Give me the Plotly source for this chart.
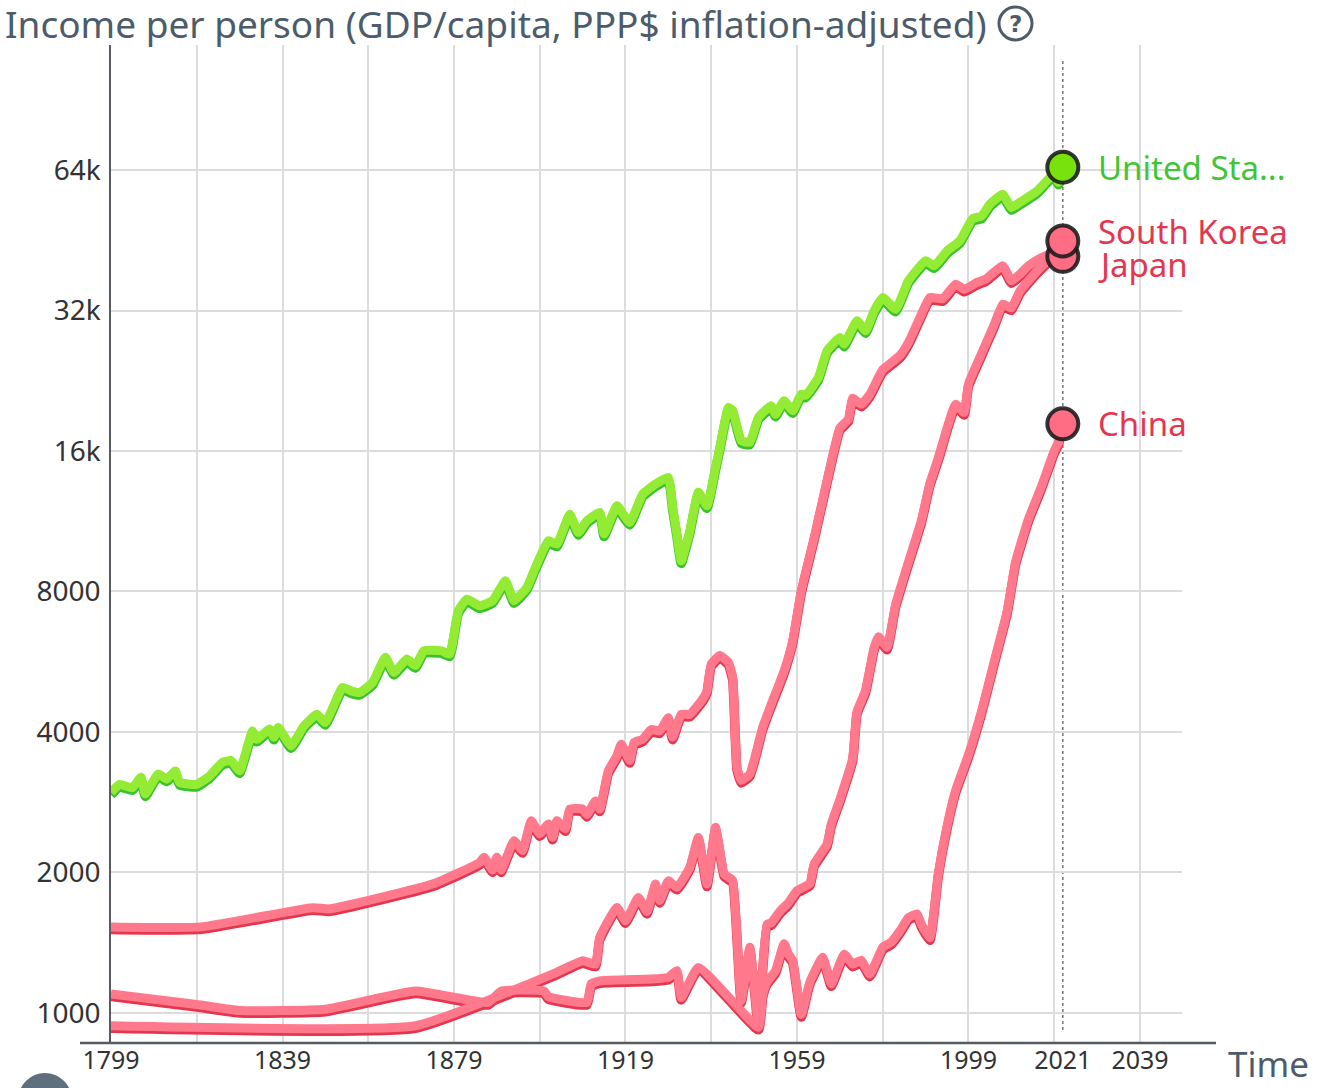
import numpy as np
import plotly.graph_objects as go

# ---- data (year, GDP per capita PPP$) ----
us_years = [1799, 1801, 1804, 1806, 1807, 1810, 1812, 1814, 1815, 1819, 1822, 1825, 1827, 1829,
            1832, 1833, 1836, 1837, 1838, 1841, 1844, 1847, 1849, 1853, 1855, 1857, 1860, 1863,
            1865, 1868, 1870, 1872, 1876, 1878, 1880, 1882, 1885, 1888, 1891, 1893, 1896, 1898,
            1901, 1903, 1906, 1908, 1910, 1913, 1914, 1916, 1917, 1920, 1923, 1926, 1929, 1930,
            1931, 1932, 1934, 1936, 1938, 1940, 1941, 1943, 1944, 1946, 1948, 1950, 1953, 1954,
            1956, 1958, 1960, 1961, 1964, 1966, 1969, 1970, 1973, 1975, 1977, 1979, 1982, 1985,
            1989, 1991, 1994, 1997, 2000, 2002, 2004, 2007, 2009, 2011, 2015, 2019, 2020, 2021]
us_gdp = [2930, 3050, 3000, 3160, 2910, 3210, 3130, 3260, 3080, 3050, 3180, 3400, 3430, 3260,
          3970, 3810, 4010, 3850, 4040, 3690, 4070, 4310, 4140, 4920, 4840, 4800, 5040, 5710,
          5300, 5660, 5480, 5900, 5900, 5800, 7180, 7610, 7360, 7550, 8330, 7550, 8060, 8900,
          10150, 9980, 11570, 10570, 11200, 11670, 10490, 11570, 12060, 11110, 12770, 13420, 13870, 11960,
          10490, 9190, 10660, 12900, 12060, 14570, 16080, 19590, 19300, 16620, 16500, 18650, 19750, 18950,
          20250, 19270, 20920, 20800, 22700, 25900, 27660, 26760, 30040, 28600, 31560, 33700, 31800, 36600,
          40400, 39400, 42400, 44600, 49800, 50300, 53400, 56100, 52500, 53900, 57000, 62000, 59500, 64900]

jp_years = [1799, 1820, 1846, 1850, 1874, 1885, 1886, 1888, 1889, 1890, 1893, 1895, 1897, 1899,
            1901, 1902, 1903, 1905, 1906, 1909, 1910, 1912, 1913, 1915, 1917, 1918, 1920, 1921,
            1923, 1925, 1927, 1929, 1930, 1932, 1934, 1937, 1938, 1939, 1941, 1943, 1944, 1945,
            1946, 1948, 1949, 1951, 1953, 1956, 1958, 1960, 1963, 1966, 1969, 1971, 1972, 1974,
            1976, 1979, 1983, 1985, 1988, 1990, 1993, 1996, 1998, 2001, 2003, 2007, 2009, 2011,
            2013, 2016, 2019, 2020, 2021]
jp_gdp = [1510, 1510, 1660, 1650, 1865, 2075, 2130, 2000, 2130, 2000, 2310, 2200, 2550, 2390,
          2510, 2350, 2550, 2450, 2700, 2700, 2630, 2810, 2700, 3260, 3510, 3720, 3430, 3750,
          3810, 4000, 3970, 4240, 3850, 4310, 4310, 4650, 4840, 5520, 5760, 5570, 5170, 3320,
          3110, 3210, 3430, 4040, 4530, 5340, 6190, 7930, 10300, 13640, 17700, 18500, 20500, 19900,
          20900, 23600, 25300, 27000, 31000, 33700, 33500, 36000, 35100, 36300, 36900, 39400, 36600, 37800,
          39400, 41000, 42000, 40200, 41800]

kr_years = [1799, 1870, 1902, 1909, 1912, 1913, 1917, 1919, 1922, 1924, 1926, 1927, 1929, 1931,
            1934, 1936, 1938, 1940, 1942, 1943, 1944, 1946, 1948, 1949, 1950, 1952, 1953, 1955,
            1957, 1959, 1962, 1963, 1966, 1967, 1969, 1972, 1973, 1975, 1977, 1978, 1980, 1982,
            1984, 1988, 1990, 1992, 1996, 1998, 1999, 2002, 2005, 2007, 2009, 2011, 2015, 2019,
            2020, 2021]
kr_gdp = [927, 927, 1196, 1278, 1256, 1434, 1662, 1556, 1746, 1630, 1865, 1720, 1896, 1835,
          2025, 2348, 1865, 2470, 1960, 1930, 1900, 1050, 1365, 1140, 930, 1530, 1540, 1630,
          1700, 1805, 1870, 2060, 2270, 2510, 2830, 3470, 4370, 4850, 6000, 6320, 6000, 7410,
          8530, 11200, 13480, 15300, 19900, 19100, 22000, 25500, 29500, 32600, 32000, 34800, 38400, 41700,
          42300, 45100]

cn_years = [1799, 1819, 1829, 1849, 1870, 1887, 1890, 1900, 1901, 1910, 1911, 1913, 1925, 1929,
            1931, 1932, 1936, 1950, 1951, 1952, 1954, 1956, 1957, 1958, 1960, 1962, 1965, 1967,
            1970, 1972, 1974, 1976, 1979, 1981, 1983, 1985, 1987, 1988, 1990, 1992, 1994, 1996,
            1999, 2002, 2005, 2008, 2010, 2013, 2016, 2019, 2020, 2021]
cn_gdp = [1084, 1030, 1000, 1006, 1100, 1040, 1100, 1100, 1070, 1040, 1140, 1157, 1167, 1177,
          1216, 1066, 1236, 920, 1080, 1150, 1216, 1390, 1320, 1280, 980, 1150, 1300, 1140,
          1320, 1256, 1280, 1196, 1365, 1400, 1480, 1580, 1610, 1530, 1430, 1975, 2480, 2960,
          3530, 4360, 5590, 7150, 9150, 11300, 13250, 15800, 16500, 18300]

names = ["United Sta...", "South Korea", "Japan", "China"]
y_ticks = [1000, 2000, 4000, 8000, 16000, 32000, 64000]
y_tick_text = ["1000", "2000", "4000", "8000", "16k", "32k", "64k"]
x_ticks = [1799, 1839, 1879, 1919, 1959, 1999, 2021, 2039]
x_grid = list(range(1799, 2040, 20))

GREEN, GREEN_DARK = "#93eb33", "#37c32b"
RED, RED_DARK = "#ff788b", "#e5364f"
TXT = "#4c5c6b"
FONT = "Noto Sans"

# plot box in page pixels: left 111, right 1182, top 45, bottom 1043
W, H = 1319, 1088
L, R, T, B = 111, 1182, 45, 1043
X_RANGE = [1799, 2048.8]
Y_RANGE = [np.log10(862), np.log10(118600)]
px_per_dec = (B - T) / (Y_RANGE[1] - Y_RANGE[0])
lift = 2.5 / px_per_dec  # line bodies sit ~2.5px above their darker underside


def px(x):
    return (x - L) / (R - L)


def py(y):
    return (B - y) / (B - T)


series = [
    (us_years, us_gdp, GREEN, GREEN_DARK),
    (jp_years, jp_gdp, RED, RED_DARK),
    (cn_years, cn_gdp, RED, RED_DARK),
    (kr_years, kr_gdp, RED, RED_DARK),
]

fig = go.Figure()
# main y: dark undersides; y2 (overlay, lifted): line bodies; y3 (overlay): bubbles
for yrs, vals, light, dark in series:
    fig.add_trace(go.Scatter(x=yrs, y=vals, mode="lines",
                             line=dict(color=dark, width=9.5, shape="spline", smoothing=0.4),
                             hoverinfo="skip", showlegend=False))
for yrs, vals, light, dark in series:
    fig.add_trace(go.Scatter(x=yrs, y=vals, mode="lines", yaxis="y2",
                             line=dict(color=light, width=9, shape="spline", smoothing=0.4),
                             showlegend=False))

# end-of-series bubbles: Japan, China, South Korea, US
for yrs, vals, col in [(jp_years, jp_gdp, "#ff6d84"), (cn_years, cn_gdp, "#ff6d84"),
                       (kr_years, kr_gdp, "#ff6d84"), (us_years, us_gdp, "#78e20c")]:
    fig.add_trace(go.Scatter(x=[yrs[-1]], y=[vals[-1]], mode="markers", yaxis="y3", showlegend=False,
                             marker=dict(size=31, color=col,
                                         line=dict(color="rgba(25,25,25,0.88)", width=4))))

# labels beside bubbles
labels = [(names[0], us_gdp[-1], "#3fc535", 0),
          (names[1], kr_gdp[-1], RED_DARK, 9),
          (names[2], jp_gdp[-1], RED_DARK, -8),
          (names[3], cn_gdp[-1], RED_DARK, 0)]
for text, val, col, ys in labels:
    fig.add_annotation(x=2021, y=np.log10(val), text=text, showarrow=False,
                       xanchor="left", yanchor="middle", xshift=33, yshift=ys,
                       font=dict(family=FONT, size=33, color=col))

# title, help icon, "Time", play button stub
fig.add_annotation(x=px(3), y=py(23), xref="paper", yref="paper", showarrow=False,
                   text="Income per person (GDP/capita, PPP$ inflation-adjusted)",
                   xanchor="left", yanchor="middle", font=dict(family=FONT, size=37, color=TXT))
fig.add_shape(type="circle", xref="paper", yref="paper", x0=px(999), x1=px(1032),
              y0=py(40), y1=py(7), line=dict(color=TXT, width=3))
fig.add_annotation(x=px(1015.5), y=py(24), xref="paper", yref="paper", showarrow=False,
                   text="<b>?</b>", xanchor="center", yanchor="middle",
                   font=dict(family="DejaVu Sans", size=23, color=TXT))
fig.add_annotation(x=px(1311), y=py(1063), xref="paper", yref="paper", showarrow=False, text="Time",
                   xanchor="right", yanchor="middle", font=dict(family=FONT, size=35, color=TXT))
fig.add_shape(type="circle", xref="paper", yref="paper", x0=px(18), x1=px(72),
              y0=py(1127), y1=py(1073), fillcolor="#5f6f7e", line=dict(width=0))

# x axis baseline running past the plot box, and the "now" marker line
fig.add_shape(type="line", xref="paper", yref="paper", x0=px(80), x1=px(1216), y0=0, y1=0,
              line=dict(color="#555b60", width=2.5))
fig.add_shape(type="line", xref="x", yref="paper", x0=2021, x1=2021, y0=py(1030), y1=py(60),
              line=dict(color="#808080", width=1.6, dash="dot"), layer="below")

fig.update_layout(
    width=W, height=H,
    margin=dict(l=L, r=W - R, t=T, b=H - B, autoexpand=False),
    paper_bgcolor="white", plot_bgcolor="white",
    font=dict(family=FONT, color="#333"),
    xaxis=dict(range=X_RANGE, tickmode="array", tickvals=x_ticks, ticktext=[str(v) for v in x_ticks],
               showgrid=False, zeroline=False, showline=False, ticks="",
               tickfont=dict(family=FONT, size=25, color="#333"),
               minor=dict(tickmode="array", tickvals=x_grid, showgrid=True,
                          gridcolor="#dcdcdc", gridwidth=2, ticks="")),
    yaxis=dict(type="log", range=Y_RANGE, tickmode="array", tickvals=y_ticks, ticktext=y_tick_text,
               showgrid=True, gridcolor="#dcdcdc", gridwidth=2, zeroline=False,
               showline=True, linecolor="#555b60", linewidth=1.5, ticks="",
               ticklabelstandoff=3, tickfont=dict(family=FONT, size=28, color="#333")),
    yaxis2=dict(type="log", range=[Y_RANGE[0] - lift, Y_RANGE[1] - lift], overlaying="y",
                visible=False),
    yaxis3=dict(type="log", range=Y_RANGE, overlaying="y", visible=False),
    hovermode="closest",
)

fig.write_html("out.html", config={"displayModeBar": False},
               post_script="document.body.style.margin='0px';")
